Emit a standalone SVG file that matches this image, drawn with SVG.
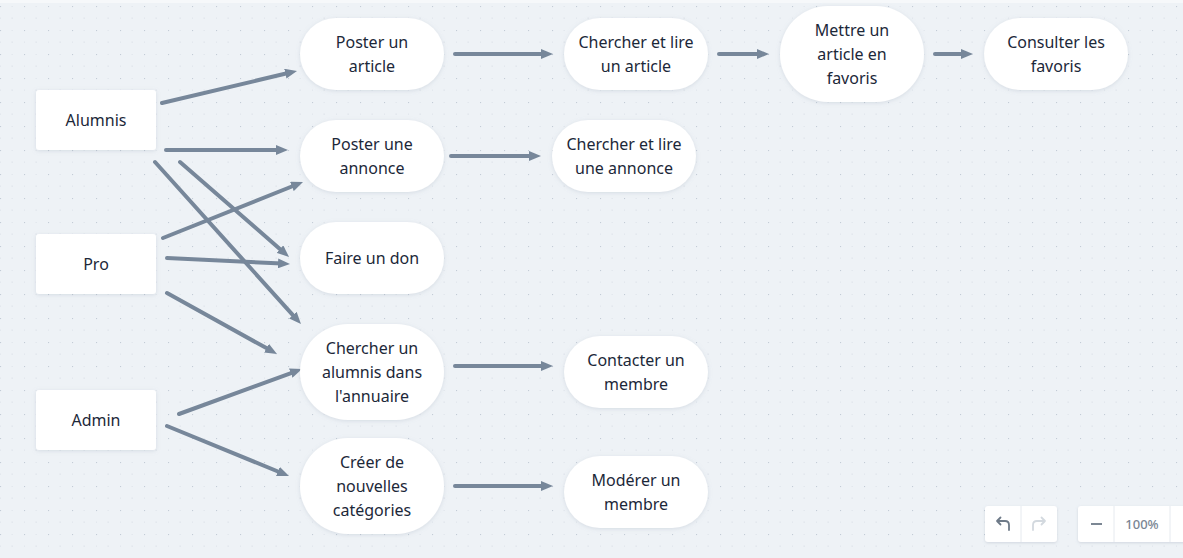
<svg xmlns="http://www.w3.org/2000/svg" width="1183" height="558" viewBox="0 0 1183 558">
<style>
.node{fill:#ffffff;filter:url(#sh)}
.t{font-family:"Noto Sans","Roboto","Liberation Sans",sans-serif;font-size:16px;fill:#1c2839;text-anchor:middle}
.c{stroke:#77879a;stroke-width:4;fill:none;stroke-linecap:round;marker-end:url(#ah)}
.ctl{fill:#ffffff;filter:url(#sh2)}
</style>
<defs>
<pattern id="grid" x="0" y="6" width="24" height="24" patternUnits="userSpaceOnUse">
<rect x="-0.5" y="-0.5" width="1.6" height="1.6" fill="#c3ccd6"/>
<rect x="11.5" y="-0.5" width="1.3" height="1.3" fill="#dde3e9"/>
<rect x="-0.5" y="11.5" width="1.3" height="1.3" fill="#dde3e9"/>
<rect x="11.5" y="11.5" width="1.3" height="1.3" fill="#dde3e9"/>
</pattern>
<filter id="sh" x="-20%" y="-20%" width="140%" height="150%">
<feDropShadow dx="0" dy="1" stdDeviation="2" flood-color="#8a99aa" flood-opacity="0.25"/>
</filter>
<filter id="sh2" x="-20%" y="-20%" width="140%" height="150%">
<feDropShadow dx="0" dy="1" stdDeviation="1.5" flood-color="#8a99aa" flood-opacity="0.3"/>
</filter>
<marker id="ah" markerUnits="userSpaceOnUse" markerWidth="12" markerHeight="10" refX="4" refY="5" orient="auto">
<path d="M0,0 L12,5 L0,10 z" fill="#77879a"/>
</marker>
</defs>
<rect width="1183" height="558" fill="#eef2f6"/>
<rect width="1183" height="558" fill="url(#grid)"/>
<rect width="1183" height="3" fill="#f6f8fa"/>

<g id="connectors">
<line class="c" x1="162" y1="103" x2="289.2" y2="72.8"/>
<line class="c" x1="166" y1="150" x2="280" y2="150"/>
<line class="c" x1="180" y1="162" x2="283" y2="251.7"/>
<line class="c" x1="155" y1="162" x2="295.6" y2="318.1"/>
<line class="c" x1="163" y1="238" x2="295.6" y2="185"/>
<line class="c" x1="167" y1="258" x2="282" y2="263.6"/>
<line class="c" x1="167" y1="293" x2="270" y2="350.1"/>
<line class="c" x1="179" y1="414" x2="294.5" y2="371.8"/>
<line class="c" x1="167" y1="426" x2="281.6" y2="473"/>
<line class="c" x1="455" y1="54" x2="545" y2="54"/>
<line class="c" x1="719" y1="54" x2="761" y2="54"/>
<line class="c" x1="935" y1="54" x2="965" y2="54"/>
<line class="c" x1="451" y1="156" x2="533" y2="156"/>
<line class="c" x1="455" y1="366" x2="545" y2="366"/>
<line class="c" x1="455" y1="486" x2="545" y2="486"/>
</g>

<g id="alumnis"><rect class="node" x="36" y="90" width="120" height="60" rx="3"/><text class="t" x="96" y="126">Alumnis</text></g>
<g id="pro"><rect class="node" x="36" y="234" width="120" height="60" rx="3"/><text class="t" x="96" y="270">Pro</text></g>
<g id="admin"><rect class="node" x="36" y="390" width="120" height="60" rx="3"/><text class="t" x="96" y="426">Admin</text></g>

<g id="poster-article"><rect class="node" x="300" y="18" width="144" height="72" rx="36"/><text class="t" x="372" y="48">Poster un</text><text class="t" x="372" y="72">article</text></g>
<g id="chercher-article"><rect class="node" x="564" y="18" width="144" height="72" rx="36"/><text class="t" x="636" y="48">Chercher et lire</text><text class="t" x="636" y="72">un article</text></g>
<g id="mettre-favoris"><rect class="node" x="780" y="6" width="144" height="96" rx="48"/><text class="t" x="852" y="36">Mettre un</text><text class="t" x="852" y="60">article en</text><text class="t" x="852" y="84">favoris</text></g>
<g id="consulter-favoris"><rect class="node" x="984" y="18" width="144" height="72" rx="36"/><text class="t" x="1056" y="48">Consulter les</text><text class="t" x="1056" y="72">favoris</text></g>
<g id="poster-annonce"><rect class="node" x="300" y="120" width="144" height="72" rx="36"/><text class="t" x="372" y="150">Poster une</text><text class="t" x="372" y="174">annonce</text></g>
<g id="chercher-annonce"><rect class="node" x="552" y="120" width="144" height="72" rx="36"/><text class="t" x="624" y="150">Chercher et lire</text><text class="t" x="624" y="174">une annonce</text></g>
<g id="faire-don"><rect class="node" x="300" y="222" width="144" height="72" rx="36"/><text class="t" x="372" y="264">Faire un don</text></g>
<g id="chercher-alumnis"><rect class="node" x="300" y="324" width="144" height="96" rx="48"/><text class="t" x="372" y="354">Chercher un</text><text class="t" x="372" y="378">alumnis dans</text><text class="t" x="372" y="402">l'annuaire</text></g>
<g id="contacter-membre"><rect class="node" x="564" y="336" width="144" height="72" rx="36"/><text class="t" x="636" y="366">Contacter un</text><text class="t" x="636" y="390">membre</text></g>
<g id="creer-categories"><rect class="node" x="300" y="438" width="144" height="96" rx="48"/><text class="t" x="372" y="468">Créer de</text><text class="t" x="372" y="492">nouvelles</text><text class="t" x="372" y="516">catégories</text></g>
<g id="moderer-membre"><rect class="node" x="564" y="456" width="144" height="72" rx="36"/><text class="t" x="636" y="486">Modérer un</text><text class="t" x="636" y="510">membre</text></g>

<g id="controls">
<rect class="ctl" x="985" y="506" width="72" height="36" rx="3"/>
<line x1="1021" y1="506" x2="1021" y2="542" stroke="#e6eaef" stroke-width="1"/>
<path d="M1009,530 V525 Q1009,521 1005,521 H997 M1000.5,517.5 L997,521 L1000.5,524.5" fill="none" stroke="#6e7a88" stroke-width="1.8" stroke-linecap="round" stroke-linejoin="round"/>
<path d="M1033,530 V525 Q1033,521 1037,521 H1045 M1041.5,517.5 L1045,521 L1041.5,524.5" fill="none" stroke="#d3d9df" stroke-width="1.8" stroke-linecap="round" stroke-linejoin="round"/>
<rect class="ctl" x="1078" y="506" width="120" height="36" rx="3"/>
<line x1="1114" y1="506" x2="1114" y2="542" stroke="#e6eaef" stroke-width="1"/>
<line x1="1170" y1="506" x2="1170" y2="542" stroke="#e6eaef" stroke-width="1"/>
<line x1="1091" y1="524" x2="1102" y2="524" stroke="#6e7a88" stroke-width="1.8"/>
<text x="1142" y="529" font-family="'Noto Sans','Roboto','Liberation Sans',sans-serif" font-size="13" font-weight="500" fill="#7a8694" text-anchor="middle">100%</text>
</g>
</svg>
